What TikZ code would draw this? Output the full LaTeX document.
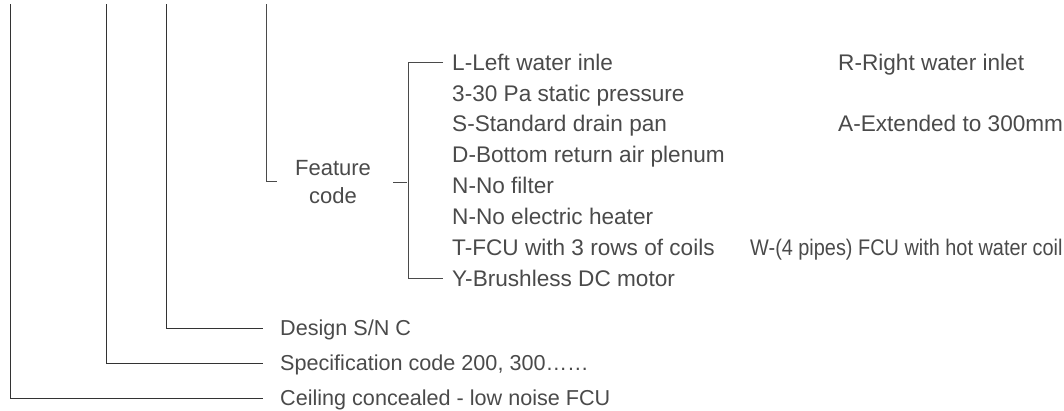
\documentclass[tikz,border=0pt]{standalone}
\usepackage{fontspec}
\setmainfont{Liberation Sans}
\usepackage{graphicx}
\definecolor{txt}{HTML}{4A4A4A}
\definecolor{linecol}{HTML}{333333}
\definecolor{brkcol}{HTML}{4A4A4A}
\begin{document}
\begin{tikzpicture}[x=1pt,y=-1pt,
  lbl/.style={anchor=west, inner sep=0pt, text=txt, font=\fontsize{21.6}{26}\selectfont, text height=15.5pt, text depth=0pt},
  rowlbl/.style={anchor=west, inner sep=0pt, text=txt, font=\fontsize{22.6}{27}\selectfont, text height=16.2pt, text depth=0pt},
  fc/.style={anchor=center, inner sep=0pt, text=txt, align=center, font=\fontsize{22}{28}\selectfont},
  conn/.style={draw=linecol, line width=1pt},
  brk/.style={draw=brkcol, line width=1pt}]
\useasboundingbox (0,0) rectangle (1064,410);

% bottom labels
\node[lbl] (ceil) at (280,398) {Ceiling concealed - low noise FCU};
\node[lbl] (spec) at (280,363) {Specification code 200, 300……};
\node[lbl] (design) at (280,328) {Design S/N C};
\node[fc] (feat) at (333,182) {Feature\\code};

% feature rows
\node[rowlbl] (r1) at (452,62.0) {L-Left water inle};
\node[rowlbl] (r2) at (452,92.9) {3-30 Pa static pressure};
\node[rowlbl] (r3) at (452,123.8) {S-Standard drain pan};
\node[rowlbl] (r4) at (452,154.7) {D-Bottom return air plenum};
\node[rowlbl] (r5) at (452,185.6) {N-No filter};
\node[rowlbl] (r6) at (452,216.5) {N-No electric heater};
\node[rowlbl] (r7) at (452,247.4) {T-FCU with 3 rows of coils};
\node[rowlbl] (r8) at (452,278.3) {Y-Brushless DC motor};

% right column
\node[rowlbl] (rr) at (838,62.0) {R-Right water inlet};
\node[rowlbl] (ra) at (838,123.8) {A-Extended to 300mm};
\node[rowlbl] (rw) at (750,247.4) {\scalebox{0.88}[1]{W-(4 pipes) FCU with hot water coil}};

% top free ends
\coordinate (t1) at (10,4);
\coordinate (t2) at (106,4);
\coordinate (t3) at (166,4);
\coordinate (t4) at (266,4);
\coordinate (f1) at (277,181);

\draw[conn] (t1) |- ([xshift=-17pt]ceil.west);
\draw[conn] (t2) |- ([xshift=-17pt]spec.west);
\draw[conn] (t3) |- ([xshift=-17pt]design.west);
\draw[brk] (t4) |- (f1);

\draw[brk] ([xshift=22pt]feat.east) -- ([xshift=36pt]feat.east);
\draw[brk] ([xshift=-9pt]r1.west) -| ([xshift=-44pt]r8.west) -- ([xshift=-9pt]r8.west);
\end{tikzpicture}
\end{document}
